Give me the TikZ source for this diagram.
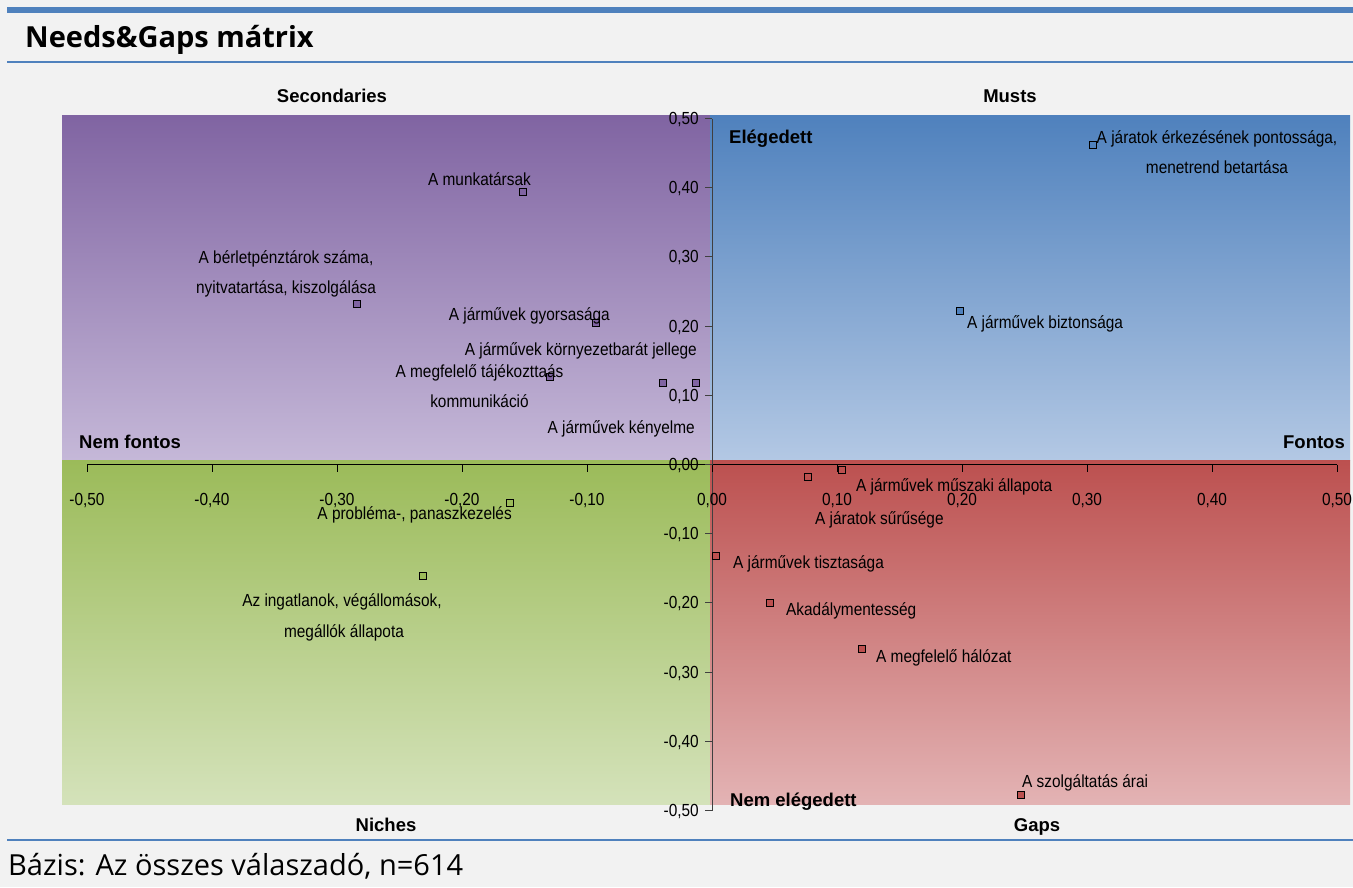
\documentclass[tikz,border=0pt]{standalone}
\usepackage{fontspec}
\setmainfont{Liberation Sans}
\newfontfamily\narrowfont[FakeStretch=0.88]{Liberation Sans}
\newfontfamily\headfont{Open Sans}

\definecolor{bgc}{HTML}{F2F2F2}
\definecolor{barblue}{HTML}{4F81BD}
\definecolor{purTop}{HTML}{8064A2}
\definecolor{purBot}{HTML}{C5B8D8}
\definecolor{bluTop}{HTML}{4F81BD}
\definecolor{bluBot}{HTML}{B3C8E4}
\definecolor{grnTop}{HTML}{9BBB59}
\definecolor{grnBot}{HTML}{D4E2BA}
\definecolor{redTop}{HTML}{BC504F}
\definecolor{redBot}{HTML}{E3B3B4}

\tikzset{
  lbl/.style={font=\narrowfont\fontsize{17.5}{21}\selectfont, inner sep=0pt},
  qlbl/.style={font=\fontsize{18.5}{22}\selectfont\bfseries, inner sep=0pt},
  ticklbl/.style={font=\narrowfont\fontsize{17.5}{21}\selectfont, inner sep=0pt},
  mark box/.style={rectangle, draw=black, line width=0.9pt, minimum size=7pt, inner sep=0pt},
  ptP/.style={mark box, fill=purTop},
  ptB/.style={mark box, fill=bluTop},
  ptG/.style={mark box, fill=grnTop},
  ptR/.style={mark box, fill=redTop},
  axisline/.style={line width=0.9pt, black},
}

\begin{document}
\begin{tikzpicture}[x=1pt,y=-1pt]
\useasboundingbox (0,0) rectangle (1353,887);
\fill[bgc] (0,0) rectangle (1353,887);

% header and footer rules
\fill[barblue] (7,7) rectangle (1353,13);
\node[anchor=base west, inner sep=0pt, font=\headfont\bfseries\fontsize{29}{34}\selectfont] (title) at (25,47) {Needs\&Gaps mátrix};
\draw[barblue, line width=1.6pt] (7,62) -- (1353,62);
\draw[barblue, line width=2pt] (7,840) -- (1353,840);
\node[anchor=base west, inner sep=0pt, font=\headfont\fontsize{29}{34}\selectfont] (foot) at (8,875) {Bázis: Az összes válaszadó, n=614};

% quadrant backgrounds
\shade[top color=purTop, bottom color=purBot] (62,115) rectangle (710,460);
\shade[top color=bluTop, bottom color=bluBot] (710,115) rectangle (1350,460);
\shade[top color=grnTop, bottom color=grnBot] (62,460) rectangle (710,804);
\shade[top color=redTop, bottom color=redBot] (710,460) rectangle (1350,804);

% quadrant names
\node[qlbl, anchor=base] (qsec) at (332,102) {Secondaries};
\node[qlbl, anchor=base] (qmust) at (1010,102) {Musts};
\node[qlbl, anchor=base] (qniche) at (386,831) {Niches};
\node[qlbl, anchor=base] (qgap) at (1037,831) {Gaps};
\node[qlbl, anchor=base west] (nemf) at (79,448) {Nem fontos};
\node[qlbl, anchor=base east] (fontos) at (1345,448) {Fontos};
\node[qlbl, anchor=base west] (eleg) at (729,143) {Elégedett};
\node[qlbl, anchor=base west] (nemeleg) at (730,806) {Nem elégedett};

% axes, ticks and points in data units
\begin{scope}[shift={(712,464.5)}, x=1250pt, y=692pt]
  \draw[axisline] (-0.5,0) -- (0.5,0);
  \draw[line width=0.9pt, black!75] (0,-0.5) -- (0,0.5);
  \foreach \v/\t in {-0.5/{-0,50},-0.4/{-0,40},-0.3/{-0,30},-0.2/{-0,20},-0.1/{-0,10},0/{0,00},0.1/{0,10},0.2/{0,20},0.3/{0,30},0.4/{0,40},0.5/{0,50}}{
    \draw[axisline] (\v,0) -- ++(0pt,-7pt);
    \path (\v,0) ++(0pt,-40.5pt) node[ticklbl, anchor=base] {\t};
    \draw[line width=0.9pt, black!75] (0,\v) -- ++(-7pt,0pt);
    \path (0,\v) ++(-13pt,-6pt) node[ticklbl, anchor=base east] {\t};
  }
  % Secondaries
  \node[ptP] (munka) at (-0.151,0.394) {};
  \node[ptP] (berlet) at (-0.284,0.232) {};
  \node[ptP] (gyors) at (-0.093,0.204) {};
  \node[ptP] (kenyelem) at (-0.039,0.118) {};
  \node[ptP] (kornyezet) at (-0.013,0.118) {};
  \node[ptP] (tajek) at (-0.130,0.126) {};
  % Musts
  \node[ptB] (pontos) at (0.305,0.462) {};
  \node[ptB] (bizt) at (0.198,0.222) {};
  % Gaps
  \node[ptR] (suru) at (0.077,-0.018) {};
  \node[ptR] (muszaki) at (0.104,-0.008) {};
  \node[ptR] (tiszta) at (0.003,-0.132) {};
  \node[ptR] (akadaly) at (0.046,-0.200) {};
  \node[ptR] (halozat) at (0.120,-0.267) {};
  \node[ptR] (arak) at (0.247,-0.478) {};
  % Niches
  \node[ptG] (panasz) at (-0.162,-0.056) {};
  \node[ptG] (ingatlan) at (-0.231,-0.161) {};
\end{scope}

% point labels
\node[lbl, anchor=base east] (lmunka) at (531,185) {A munkatársak};
\node[lbl, anchor=base] (lberleta) at (286,263) {A bérletpénztárok száma,};
\node[lbl, anchor=base] (lberletb) at (286,293) {nyitvatartása, kiszolgálása};
\node[lbl, anchor=base east] (lgyors) at (610,320) {A járművek gyorsasága};
\node[lbl, anchor=base east] (lkornyezet) at (697,355) {A járművek környezetbarát jellege};
\node[lbl, anchor=base] (ltajeka) at (479.5,377) {A megfelelő tájékozttaás};
\node[lbl, anchor=base] (ltajekb) at (479.5,407) {kommunikáció};
\node[lbl, anchor=base east] (lkenyelem) at (695,433) {A járművek kényelme};
\node[lbl, anchor=base] (lpontosa) at (1217,143) {A járatok érkezésének pontossága,};
\node[lbl, anchor=base] (lpontosb) at (1217,173) {menetrend betartása};
\node[lbl, anchor=base west] (lbizt) at (967,328) {A járművek biztonsága};
\node[lbl, anchor=base west] (lmuszaki) at (856,491) {A járművek műszaki állapota};
\node[lbl, anchor=base west] (lsuru) at (815,524) {A járatok sűrűsége};
\node[lbl, anchor=base west] (ltiszta) at (733,568) {A járművek tisztasága};
\node[lbl, anchor=base west] (lakadaly) at (786,615) {Akadálymentesség};
\node[lbl, anchor=base west] (lhalozat) at (876,662) {A megfelelő hálózat};
\node[lbl, anchor=base west] (larak) at (1022,787) {A szolgáltatás árai};
\node[lbl, anchor=base east] (lpanasz) at (512,519) {A probléma-, panaszkezelés};
\node[lbl, anchor=base] (lingatlana) at (342,606) {Az ingatlanok, végállomások,};
\node[lbl, anchor=base] (lingatlanb) at (344,637) {megállók állapota};
\end{tikzpicture}
\end{document}
